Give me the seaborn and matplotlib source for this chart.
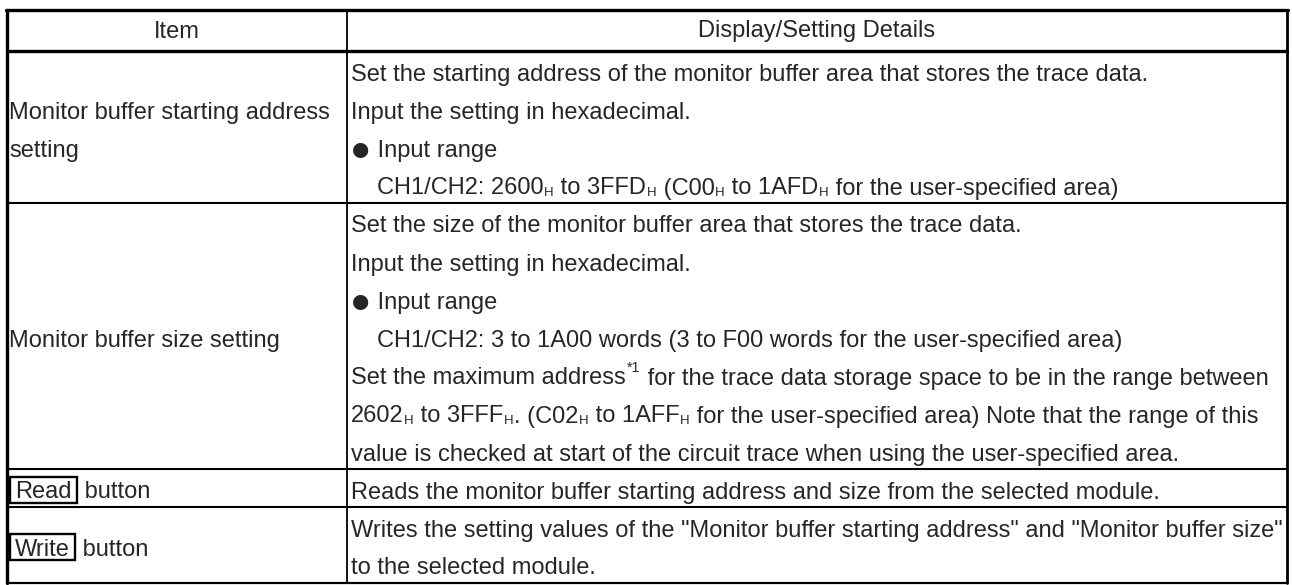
import re
import matplotlib
matplotlib.use('Agg')
import matplotlib.pyplot as plt
import seaborn as sns
from matplotlib.patches import Rectangle

sns.set_theme(style='white')
plt.rcParams['font.family'] = ['Liberation Sans', 'DejaVu Sans']

# table content ({_H} = small subscript H, {^*1} = superscript note)
headers = ['Item', 'Display/Setting Details']
items = [
    ['Monitor buffer starting address', 'setting'],
    ['Monitor buffer size setting'],
    ['[Read] button'],
    ['[Write] button'],
]
details = [
    ['Set the starting address of the monitor buffer area that stores the trace data.',
     'Input the setting in hexadecimal.',
     '\u25cf Input range',
     '>CH1/CH2: 2600{_H} to 3FFD{_H} (C00{_H} to 1AFD{_H} for the user-specified area)'],
    ['Set the size of the monitor buffer area that stores the trace data.',
     'Input the setting in hexadecimal.',
     '\u25cf Input range',
     '>CH1/CH2: 3 to 1A00 words (3 to F00 words for the user-specified area)',
     'Set the maximum address{^*1} for the trace data storage space to be in the range between',
     '2602{_H} to 3FFF{_H}. (C02{_H} to 1AFF{_H} for the user-specified area) Note that the range of this',
     'value is checked at start of the circuit trace when using the user-specified area.'],
    ['Reads the monitor buffer starting address and size from the selected module.'],
    ['Writes the setting values of the "Monitor buffer starting address" and "Monitor buffer size"',
     'to the selected module.'],
]

W, H = 1292, 585
FS = 17.0
PX = FS * 100 / 72
XL, XM, XR = 7, 347, 1287
YT, YH = 10, 51
LINE = 38

fig = plt.figure(figsize=(W / 100, H / 100), dpi=100)
ax = fig.add_axes([0, 0, 1, 1])
ax.set_xlim(0, W)
ax.set_ylim(H, 0)
ax.axis('off')
rend = fig.canvas.get_renderer()


def tw(s, fs):
    # width incl. spaces, measured between two bars
    t = ax.text(0, 0, '|' + s + '|', fontsize=fs)
    t0 = ax.text(0, 0, '||', fontsize=fs)
    w = t.get_window_extent(rend).width - t0.get_window_extent(rend).width
    t.remove()
    t0.remove()
    return w


def put(x, y, s, fs=FS):
    for p in re.split(r'(\{[_^][^}]*\})', s):
        if not p:
            continue
        if p.startswith('{_'):
            ax.text(x + 0.5, y + 1, p[2:-1], fontsize=fs * 0.56, va='baseline')
            x += tw(p[2:-1], fs * 0.56) + 1
        elif p.startswith('{^'):
            ax.text(x + 1, y - 0.52 * fs * 100 / 72, p[2:-1], fontsize=fs * 0.6, va='baseline')
            x += tw(p[2:-1], fs * 0.6) + 2
        else:
            ax.text(x, y, p, fontsize=fs, va='baseline')
            x += tw(p, fs)
    return x


def cell_text(x, yc, s):
    yb = yc + 0.36 * PX
    if s.startswith('>'):
        put(x + 26, yb, s[1:])
    elif s.startswith('\u25cf'):
        ax.text(x - 1, yb + 3, '\u25cf', fontsize=FS * 1.5, va='baseline')
        put(x + tw('\u25cf', FS * 1.5) - 1, yb, s[1:])
    elif s.startswith('['):
        name, rest = s[1:].split(']')
        w = tw(name, FS)
        ax.add_patch(Rectangle((x + 1, yc - 13), w + 10, 26, fill=False, lw=1.7, ec='black'))
        ax.text(x + 6, yb, name, fontsize=FS, va='baseline')
        put(x + w + 12, yb, rest)
    else:
        put(x, yb, s)


# header
for txt, (a, b) in zip(headers, [(XL, XM), (XM, XR)]):
    ax.text((a + b) / 2, (YT + YH) / 2 + 1, txt, fontsize=FS, ha='center', va='center')

y = YH
seps = []
for it, det in zip(items, details):
    n = len(det)
    for i, line in enumerate(det):
        cell_text(XM + 4, y + LINE * (i + 0.5) + 2, line)
    mid = y + n * LINE / 2
    for j, line in enumerate(it):
        cell_text(XL + 2, mid + LINE * (j - (len(it) - 1) / 2) + 2, line)
    y += n * LINE
    seps.append(y)

# borders
k = 'black'
ax.plot([XL - 1, XR + 1], [YT, YT], color=k, lw=2.4)
ax.plot([XL, XR], [YH, YH], color=k, lw=2.4)
for s in seps[:-1]:
    ax.plot([XL, XR], [s, s], color=k, lw=1.5)
ax.plot([XL, XR], [seps[-1], seps[-1]], color=k, lw=1.6)
ax.plot([XL, XL], [YT, seps[-1]], color=k, lw=2.4)
ax.plot([XR, XR], [YT, seps[-1]], color=k, lw=2.0)
ax.plot([XM, XM], [YT, seps[-1]], color=k, lw=1.3)

fig.savefig('out.png', dpi=100, facecolor='white')
